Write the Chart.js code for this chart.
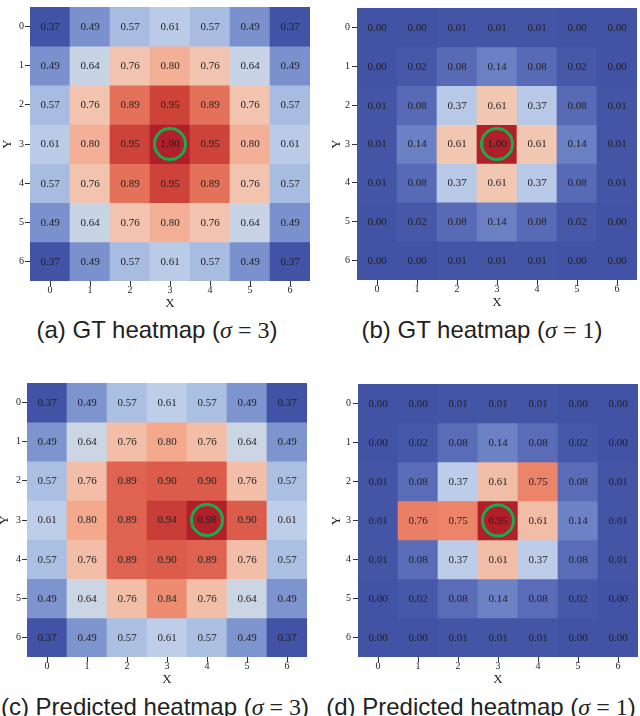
<!DOCTYPE html>
<html>
<head>
<meta charset="utf-8">
<script src="https://cdn.jsdelivr.net/npm/chart.js@4.4.1/dist/chart.umd.min.js"></script>
<style>
  body { margin: 0; background: #fff; width: 640px; height: 716px; overflow: hidden; position: relative; }
  .panel { position: absolute; }
  .cap {
    position: absolute; text-align: center; white-space: nowrap;
    font-family: "Liberation Sans", Arial, sans-serif; font-size: 24px; line-height: 24px; color: #222;
  }
  .cap .m { font-family: "Liberation Serif", "DejaVu Serif", serif; }
</style>
</head>
<body>
<div class="panel" style="left:0px;top:0px"><canvas id="hmA" width="320" height="311"></canvas></div>
<div class="panel" style="left:320px;top:0px"><canvas id="hmB" width="320" height="310"></canvas></div>
<div class="panel" style="left:0px;top:376px"><canvas id="hmC" width="320" height="311"></canvas></div>
<div class="panel" style="left:320px;top:376px"><canvas id="hmD" width="320" height="311"></canvas></div>

<div class="cap" style="left:0px;top:318px;width:314px">(a) GT heatmap (<span class="m"><i>σ</i> = 3</span>)</div>
<div class="cap" style="left:322px;top:318px;width:320px">(b) GT heatmap (<span class="m"><i>σ</i> = 1</span>)</div>
<div class="cap" style="left:-5px;top:695px;width:320px">(c) Predicted heatmap (<span class="m"><i>σ</i> = 3</span>)</div>
<div class="cap" style="left:321px;top:695px;width:320px">(d) Predicted heatmap (<span class="m"><i>σ</i> = 1</span>)</div>

<script>
// Axis labels
const xLabels = ['0', '1', '2', '3', '4', '5', '6'];
const yLabels = ['0', '1', '2', '3', '4', '5', '6'];

// Heatmap values, one row per y label
const gtSigma3 = [
    [0.37, 0.49, 0.57, 0.61, 0.57, 0.49, 0.37],
    [0.49, 0.64, 0.76, 0.80, 0.76, 0.64, 0.49],
    [0.57, 0.76, 0.89, 0.95, 0.89, 0.76, 0.57],
    [0.61, 0.80, 0.95, 1.00, 0.95, 0.80, 0.61],
    [0.57, 0.76, 0.89, 0.95, 0.89, 0.76, 0.57],
    [0.49, 0.64, 0.76, 0.80, 0.76, 0.64, 0.49],
    [0.37, 0.49, 0.57, 0.61, 0.57, 0.49, 0.37]
];
const gtSigma1 = [
    [0.00, 0.00, 0.01, 0.01, 0.01, 0.00, 0.00],
    [0.00, 0.02, 0.08, 0.14, 0.08, 0.02, 0.00],
    [0.01, 0.08, 0.37, 0.61, 0.37, 0.08, 0.01],
    [0.01, 0.14, 0.61, 1.00, 0.61, 0.14, 0.01],
    [0.01, 0.08, 0.37, 0.61, 0.37, 0.08, 0.01],
    [0.00, 0.02, 0.08, 0.14, 0.08, 0.02, 0.00],
    [0.00, 0.00, 0.01, 0.01, 0.01, 0.00, 0.00]
];
const predSigma3 = [
    [0.37, 0.49, 0.57, 0.61, 0.57, 0.49, 0.37],
    [0.49, 0.64, 0.76, 0.80, 0.76, 0.64, 0.49],
    [0.57, 0.76, 0.89, 0.90, 0.90, 0.76, 0.57],
    [0.61, 0.80, 0.89, 0.94, 0.98, 0.90, 0.61],
    [0.57, 0.76, 0.89, 0.90, 0.89, 0.76, 0.57],
    [0.49, 0.64, 0.76, 0.84, 0.76, 0.64, 0.49],
    [0.37, 0.49, 0.57, 0.61, 0.57, 0.49, 0.37]
];
const predSigma1 = [
    [0.00, 0.00, 0.01, 0.01, 0.01, 0.00, 0.00],
    [0.00, 0.02, 0.08, 0.14, 0.08, 0.02, 0.00],
    [0.01, 0.08, 0.37, 0.61, 0.75, 0.08, 0.01],
    [0.01, 0.76, 0.75, 0.95, 0.61, 0.14, 0.01],
    [0.01, 0.08, 0.37, 0.61, 0.37, 0.08, 0.01],
    [0.00, 0.02, 0.08, 0.14, 0.08, 0.02, 0.00],
    [0.00, 0.00, 0.01, 0.01, 0.01, 0.00, 0.00]
];

// muted coolwarm colormap stops (0 .. 1), matched to the figure's tones
const coolwarm = ['#4252a4', '#5e70bb', '#7e95cf', '#a3b8e0', '#c0d0ea', '#dcdcdc',
                  '#f1cab6', '#f4ab8f', '#ea7f65', '#d44c3e', '#b11f2b'];

function hexToRgb(h) {
    return [parseInt(h.slice(1, 3), 16), parseInt(h.slice(3, 5), 16), parseInt(h.slice(5, 7), 16)];
}

function colorAt(t) {
    t = Math.max(0, Math.min(1, t));
    const pos = t * (coolwarm.length - 1);
    const i = Math.min(Math.floor(pos), coolwarm.length - 2);
    const f = pos - i;
    const a = hexToRgb(coolwarm[i]), b = hexToRgb(coolwarm[i + 1]);
    const c = a.map((v, k) => Math.round(v + (b[k] - v) * f));
    return 'rgb(' + c.join(',') + ')';
}

const serif = '"Liberation Serif", "DejaVu Serif", serif';

// Draws the value text in every cell and a green ring on the max cell
const cellLabels = {
    id: 'cellLabels',
    afterDatasetsDraw(chart) {
        const grid = chart.options.plugins.cellLabels.grid;
        const ctx = chart.ctx;
        let best = null, bestVal = -Infinity;
        ctx.save();
        ctx.font = '11px ' + serif;
        ctx.fillStyle = '#1e1e1e';
        ctx.textAlign = 'center';
        ctx.textBaseline = 'middle';
        grid.forEach((row, r) => {
            const meta = chart.getDatasetMeta(r);
            row.forEach((v, c) => {
                const pt = meta.data[c].getCenterPoint();
                ctx.fillText(v.toFixed(2), pt.x, pt.y + 0.5);
                if (v > bestVal) { bestVal = v; best = pt; }
            });
        });
        if (best) {
            ctx.beginPath();
            ctx.strokeStyle = '#1aab4b';
            ctx.lineWidth = 3;
            ctx.arc(best.x, best.y, 15.5, 0, Math.PI * 2);
            ctx.stroke();
        }
        ctx.restore();
    }
};

function drawHeatmap(canvasId, grid, left, top, yTitleX, yTickPad) {
    const flat = grid.flat();
    const vmin = Math.min(...flat), vmax = Math.max(...flat);
    const canvas = document.getElementById(canvasId);
    const size = 280;

    const datasets = grid.map((row, r) => ({
        label: 'row ' + yLabels[r],
        data: row.map(() => [r, r + 1]),
        backgroundColor: row.map(v => colorAt((v - vmin) / (vmax - vmin))),
        borderWidth: 0,
        barPercentage: 1,
        categoryPercentage: 1,
        grouped: false
    }));

    new Chart(canvas, {
        type: 'bar',
        data: { labels: xLabels, datasets: datasets },
        options: {
            responsive: false,
            animation: false,
            layout: { padding: { left: 0, top: top, right: canvas.width - left - size, bottom: 0 } },
            scales: {
                x: {
                    type: 'category',
                    grid: { offset: false, drawOnChartArea: false, tickLength: 5, color: '#333' },
                    border: { display: false },
                    ticks: { font: { family: serif, size: 10 }, color: '#222', padding: -2 },
                    title: { display: true, text: 'X', font: { family: serif, size: 13 }, color: '#222', padding: 0 },
                    afterFit(scale) { scale.height = canvas.height - top - size; }
                },
                y: {
                    type: 'linear',
                    min: 0,
                    max: grid.length,
                    reverse: true,
                    grid: { drawOnChartArea: false, tickLength: 5, color: '#333' },
                    border: { display: false },
                    afterBuildTicks(scale) {
                        scale.ticks = yLabels.map((_, i) => ({ value: i + 0.5 }));
                    },
                    ticks: {
                        font: { family: serif, size: 10 },
                        color: '#222',
                        padding: yTickPad,
                        callback: (value, index) => yLabels[index]
                    },
                    title: {
                        display: true, text: 'Y', font: { family: serif, size: 13 }, color: '#222',
                        padding: { top: yTitleX - 7.8, bottom: 0 }
                    },
                    afterFit(scale) { scale.width = left; }
                }
            },
            plugins: {
                legend: { display: false },
                tooltip: { enabled: false },
                cellLabels: { grid: grid }
            }
        },
        plugins: [cellLabels]
    });
}

drawHeatmap('hmA', gtSigma3, 30, 1, 8, 1);
drawHeatmap('hmB', gtSigma1, 37, 0, 17, 2);
drawHeatmap('hmC', predSigma3, 27, 1, 5, 1);
drawHeatmap('hmD', predSigma1, 38, 1, 17, 2);
</script>
</body>
</html>
